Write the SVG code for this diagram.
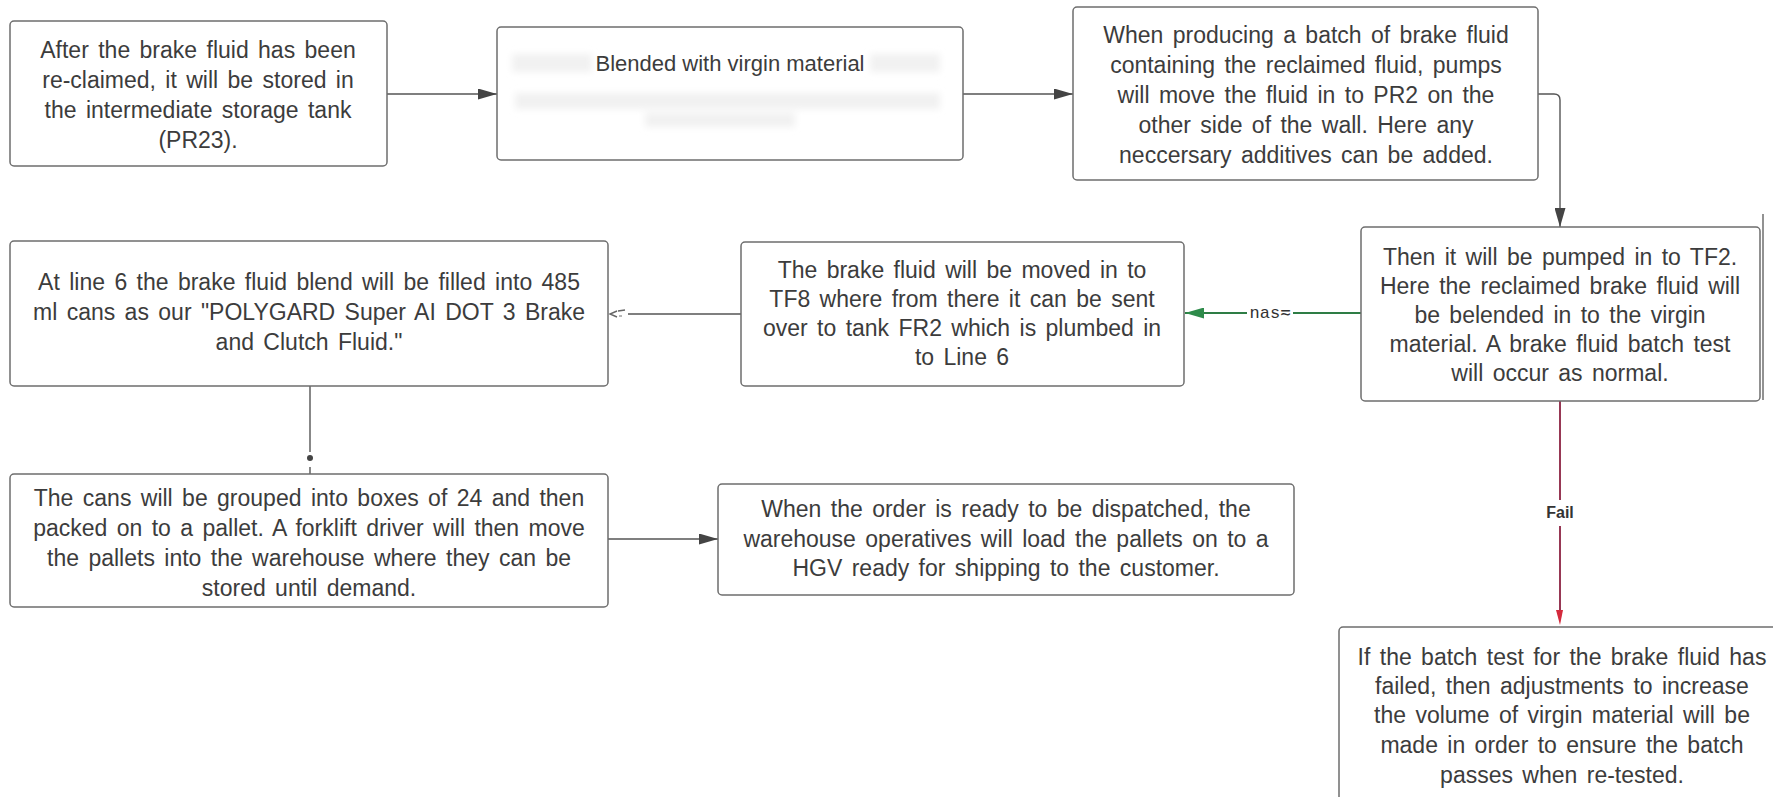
<svg xmlns="http://www.w3.org/2000/svg" width="1773" height="797" viewBox="0 0 1773 797">
<style>
.box{fill:#ffffff;stroke:#6e6e6e;stroke-width:1.5}
.t{font-family:"Liberation Sans",Arial,sans-serif;font-size:23px;fill:#3c3c3c;text-anchor:middle;word-spacing:3px}
.c{fill:none;stroke:#555555;stroke-width:1.4}
.g{fill:none;stroke:#2e7d45;stroke-width:1.8}
.r{fill:none;stroke:#8c2242;stroke-width:1.8}
.lbl{font-family:"Liberation Mono","DejaVu Sans Mono",monospace;font-size:17px;fill:#333333;text-anchor:middle}
.fail{font-family:"Liberation Sans",Arial,sans-serif;font-size:16px;font-weight:bold;fill:#333333;text-anchor:middle}
</style>
<defs>
<marker id="ah" markerUnits="userSpaceOnUse" markerWidth="19" markerHeight="11" viewBox="0 0 19 11" refX="19" refY="5.5" orient="auto">
<path d="M0,0 L19,5.5 L0,11 z" fill="#444444"/>
</marker>
<marker id="ahg" markerUnits="userSpaceOnUse" markerWidth="19" markerHeight="11" viewBox="0 0 19 11" refX="19" refY="5.5" orient="auto">
<path d="M0,0 L19,5.5 L0,11 z" fill="#2e8b4a"/>
</marker>
<filter id="blur" x="-20%" y="-50%" width="140%" height="200%">
<feGaussianBlur stdDeviation="3.5"/>
</filter>
</defs>
<rect width="1773" height="797" fill="#ffffff"/>

<g id="connectors">
<line class="c" x1="387" y1="94" x2="497" y2="94" marker-end="url(#ah)"/>
<line class="c" x1="963" y1="94" x2="1073" y2="94" marker-end="url(#ah)"/>
<path class="c" d="M1538,94 H1554 Q1560,94 1560,100 V227" marker-end="url(#ah)"/>
<line class="g" x1="1361" y1="313" x2="1293" y2="313"/>
<line class="g" x1="1247" y1="313" x2="1185" y2="313" marker-end="url(#ahg)"/>
<text class="lbl" x="1270" y="318">nas≂</text>
<line class="c" x1="741" y1="314" x2="628" y2="314"/>
<path d="M617,311 L610,314 L617,317" fill="none" stroke="#666666" stroke-width="1.4"/>
<line x1="618" y1="311" x2="625" y2="310" stroke="#666666" stroke-width="1.4"/>
<line x1="619" y1="316" x2="622" y2="316" stroke="#888888" stroke-width="1.2"/>
<line class="c" x1="310" y1="386" x2="310" y2="452"/>
<circle cx="310" cy="458" r="3" fill="#444444"/>
<line class="c" x1="310" y1="467" x2="310" y2="474"/>
<line class="c" x1="608" y1="539" x2="718" y2="539" marker-end="url(#ah)"/>
<line class="r" x1="1560" y1="401" x2="1560" y2="500"/>
<line class="r" x1="1560" y1="526" x2="1560" y2="610"/>
<text class="fail" x="1560" y="518">Fail</text>
<path d="M1556,610 L1563,610 L1560,625 z" fill="#d42a3c"/>
<line x1="1763" y1="214" x2="1763" y2="400" stroke="#6e6e6e" stroke-width="1.5"/>
</g>

<g id="n1">
<rect class="box" x="10" y="21" width="377" height="145" rx="4"/>
<text class="t" x="198" y="58">After the brake fluid has been</text>
<text class="t" x="198" y="88">re-claimed, it will be stored in</text>
<text class="t" x="198" y="118">the intermediate storage tank</text>
<text class="t" x="198" y="148">(PR23).</text>
</g>

<g id="n2">
<rect class="box" x="497" y="27" width="466" height="133" rx="4"/>
<g filter="url(#blur)" fill="#f1f1f1">
<rect x="512" y="54" width="80" height="18"/>
<rect x="870" y="54" width="70" height="18"/>
<rect x="515" y="93" width="425" height="16"/>
<rect x="645" y="113" width="150" height="14"/>
</g>
<text class="t" x="730" y="71" style="font-size:22px;word-spacing:0">Blended with virgin material</text>
</g>

<g id="n3">
<rect class="box" x="1073" y="7" width="465" height="173" rx="4"/>
<text class="t" x="1306" y="43">When producing a batch of brake fluid</text>
<text class="t" x="1306" y="73">containing the reclaimed fluid, pumps</text>
<text class="t" x="1306" y="103">will move the fluid in to PR2 on the</text>
<text class="t" x="1306" y="133">other side of the wall. Here any</text>
<text class="t" x="1306" y="163">neccersary additives can be added.</text>
</g>

<g id="n4">
<rect class="box" x="1361" y="227" width="399" height="174" rx="4"/>
<text class="t" x="1560" y="265">Then it will be pumped in to TF2.</text>
<text class="t" x="1560" y="294">Here the reclaimed brake fluid will</text>
<text class="t" x="1560" y="323">be belended in to the virgin</text>
<text class="t" x="1560" y="352">material. A brake fluid batch test</text>
<text class="t" x="1560" y="381">will occur as normal.</text>
</g>

<g id="n5">
<rect class="box" x="741" y="242" width="443" height="144" rx="4"/>
<text class="t" x="962" y="278">The brake fluid will be moved in to</text>
<text class="t" x="962" y="307">TF8 where from there it can be sent</text>
<text class="t" x="962" y="336">over to tank FR2 which is plumbed in</text>
<text class="t" x="962" y="365">to Line 6</text>
</g>

<g id="n6">
<rect class="box" x="10" y="241" width="598" height="145" rx="4"/>
<text class="t" x="309" y="290">At line 6 the brake fluid blend will be filled into 485</text>
<text class="t" x="309" y="320">ml cans as our "POLYGARD Super AI  DOT 3 Brake</text>
<text class="t" x="309" y="350">and Clutch Fluid."</text>
</g>

<g id="n7">
<rect class="box" x="10" y="474" width="598" height="133" rx="4"/>
<text class="t" x="309" y="506">The cans will be grouped into boxes of 24 and then</text>
<text class="t" x="309" y="536">packed on to a pallet. A forklift driver will then move</text>
<text class="t" x="309" y="566">the pallets into the warehouse where they can be</text>
<text class="t" x="309" y="596">stored until demand.</text>
</g>

<g id="n8">
<rect class="box" x="718" y="484" width="576" height="111" rx="4"/>
<text class="t" x="1006" y="517">When the order is ready to be dispatched, the</text>
<text class="t" x="1006" y="547">warehouse operatives will load the pallets on to a</text>
<text class="t" x="1006" y="576">HGV ready for shipping to the customer.</text>
</g>

<g id="n9">
<rect class="box" x="1339" y="627" width="460" height="200" rx="4"/>
<text class="t" x="1562" y="665">If the batch test for the brake fluid has</text>
<text class="t" x="1562" y="694">failed, then adjustments to increase</text>
<text class="t" x="1562" y="723">the volume of virgin material will be</text>
<text class="t" x="1562" y="753">made in order to ensure the batch</text>
<text class="t" x="1562" y="783">passes when re-tested.</text>
</g>
</svg>
